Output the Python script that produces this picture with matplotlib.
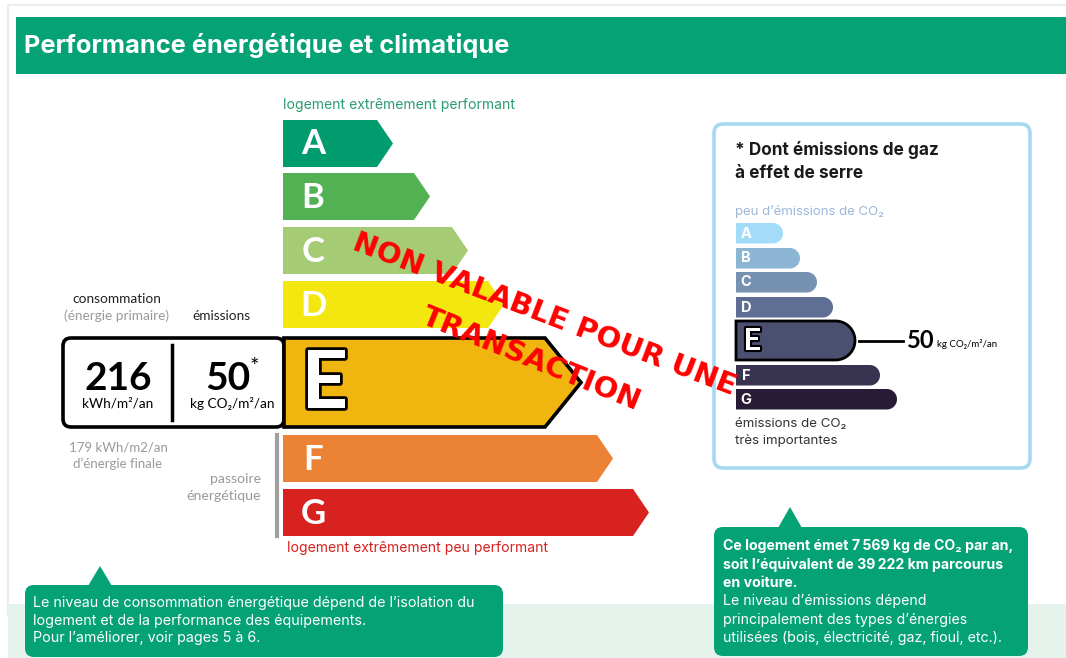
import matplotlib
matplotlib.use("Agg")
import matplotlib.pyplot as plt
import numpy as np
from matplotlib.patches import Polygon, FancyBboxPatch, Rectangle
import matplotlib.patheffects as pe

plt.rcParams['font.family'] = ['Inter', 'DejaVu Sans']

# ---------------- data ----------------
classes = ['A', 'B', 'C', 'D', 'E', 'F', 'G']
energy_colors = ['#009c6d', '#52b153', '#a5cc74', '#f4e70f', '#f0b50f', '#eb8235', '#d7221f']
ghg_colors = ['#a4dbf8', '#8cb4d3', '#7792b1', '#5f6e93', '#4b5070', '#373350', '#281b35']
energy_class = 'E'
ghg_class = 'E'
primary_consumption = 216      # kWh/m²/an
ghg_emissions = 50             # kg CO2/m²/an
final_consumption = 179        # kWh/m2/an
annual_co2 = '7\u202f569'      # kg CO2 / an
car_km = '39\u202f222'         # km
title = 'Performance énergétique et climatique'
top_label = 'logement extrêmement performant'
bottom_label = 'logement extrêmement peu performant'

W, H = 1066, 658
fig = plt.figure(figsize=(W / 100, H / 100), dpi=100)
ax = fig.add_axes([0, 0, 1, 1])
ax.set_xlim(0, W)
ax.set_ylim(H, 0)
ax.axis('off')

GREEN = '#04a275'
LATO = ['Lato', 'DejaVu Sans']

# frame and background bands
ax.add_patch(Rectangle((8, 5), W, 610, facecolor='white', edgecolor='#e3ebe8', lw=1.2))
ax.add_patch(Rectangle((8, 604), W, 60, facecolor='#e6f2ec', edgecolor='none'))
ax.add_patch(Rectangle((16, 17), W, 57, facecolor=GREEN, edgecolor='none'))
ax.text(24, 46, title, color='white', fontsize=18.3, fontweight='bold', va='center', ha='left')

# ---------------- energy label ----------------
ax.text(283, 105, top_label, color='#2a9d6f', fontsize=10.1, va='center', ha='left')
bar_x0 = 283
bar_h = 47
row_top = [120, 173, 227, 281, None, 435, 489]
rect_end = [377, 414, 452, 488, None, 597, 633]
for i, c in enumerate(classes):
    if c == energy_class:
        continue
    y0 = row_top[i]
    x1 = rect_end[i]
    tip = 16
    poly = [(bar_x0, y0), (x1, y0), (x1 + tip, y0 + bar_h / 2), (x1, y0 + bar_h), (bar_x0, y0 + bar_h)]
    ax.add_patch(Polygon(poly, closed=True, facecolor=energy_colors[i], edgecolor='none'))
    ax.text(bar_x0 + 30, y0 + bar_h / 2 + 1, c, color='white', fontsize=25, fontweight='bold',
            ha='center', va='center', family=LATO)

# highlighted energy class
ei = classes.index(energy_class)
ey0, ey1 = 338, 427
box_x0 = 63
arrow_x0 = 284
arrow_x1 = 545
arrow_tip = 581
ax.add_patch(FancyBboxPatch((box_x0, ey0), arrow_x0 - box_x0, ey1 - ey0,
                            boxstyle='round,pad=0,rounding_size=8',
                            facecolor='white', edgecolor='black', lw=2.6, zorder=3))
ax.add_patch(Polygon([(arrow_x0, ey0), (arrow_x1, ey0), (arrow_tip, (ey0 + ey1) / 2),
                      (arrow_x1, ey1), (arrow_x0, ey1)], closed=True,
                     facecolor=energy_colors[ei], edgecolor='black', lw=2.6, joinstyle='miter', zorder=4))
ax.text(325, 385, energy_class, color='white', fontsize=58, fontweight='bold', ha='center', va='center',
        zorder=5, family=LATO, path_effects=[pe.withStroke(linewidth=4, foreground='black')])
ax.plot([172, 172], [345, 420], color='black', lw=2.5, zorder=5)
ax.text(118, 378, str(primary_consumption), fontsize=28, fontweight='bold', ha='center', va='center',
        zorder=5, family=LATO)
ax.text(118, 404, 'kWh/m²/an', fontsize=9.8, ha='center', va='center', zorder=5, family=LATO)
ax.text(228, 378, str(ghg_emissions), fontsize=28, fontweight='bold', ha='center', va='center',
        zorder=5, family=LATO)
ax.text(250, 367, '*', fontsize=16, ha='left', va='center', zorder=5, family=LATO)
ax.text(232, 404, 'kg CO₂/m²/an', fontsize=9.8, ha='center', va='center', zorder=5, family=LATO)

ax.text(117, 299, 'consommation', fontsize=9.8, ha='center', va='center', color='#222222', family=LATO)
ax.text(117, 316, '(énergie primaire)', fontsize=9.8, ha='center', va='center', color='#9a9a9a', family=LATO)
ax.text(221, 316, 'émissions', fontsize=9.8, ha='center', va='center', color='#222222', family=LATO)
ax.text(118, 447, f'{final_consumption} kWh/m2/an', fontsize=9.5, ha='center', va='center', color='#9a9a9a', family=LATO)
ax.text(118, 464, 'd’énergie finale', fontsize=9.5, ha='center', va='center', color='#9a9a9a', family=LATO)
ax.plot([277, 277], [435, 536], color='#a0a0a0', lw=3)
ax.text(261, 479, 'passoire', fontsize=10.2, ha='right', va='center', color='#9a9a9a', family=LATO)
ax.text(261, 496, 'énergétique', fontsize=10.2, ha='right', va='center', color='#9a9a9a', family=LATO)
ax.text(287, 548, bottom_label, color='#d7221f', fontsize=10.1, va='center', ha='left')

# ---------------- GHG box ----------------
ax.add_patch(FancyBboxPatch((714, 124), 316, 344, boxstyle='round,pad=0,rounding_size=9',
                            facecolor='white', edgecolor='#a8d9f2', lw=2.6))
ax.text(735, 150, '* Dont émissions de gaz', fontsize=12.4, fontweight='bold', ha='left', va='center', color='#1a1a1a')
ax.text(735, 173, 'à effet de serre', fontsize=12.4, fontweight='bold', ha='left', va='center', color='#1a1a1a')
ax.text(735, 211, 'peu d’émissions de CO₂', fontsize=9.5, ha='left', va='center', color='#9cb7d8')
ax.text(735, 424, 'émissions de CO₂', fontsize=9.6, ha='left', va='center', color='#333333')
ax.text(735, 441, 'très importantes', fontsize=9.6, ha='left', va='center', color='#333333')


def rounded_bar(x0, y0, x1, h, **kw):
    r = h / 2
    cx = x1 - r
    cy = y0 + r
    ang = np.linspace(-np.pi / 2, np.pi / 2, 40)
    pts = [(x0, y0)] + [(cx + r * np.cos(a), cy + r * np.sin(a)) for a in ang] + [(x0, y0 + h)]
    return Polygon(pts, closed=True, **kw)


g_x0 = 736
g_top = [223, 248, 272, 297, 321, 365, 389]
g_end = [783, 800, 817, 833, 855, 880, 897]
for i, c in enumerate(classes):
    if c == ghg_class:
        ax.add_patch(rounded_bar(g_x0, g_top[i], g_end[i], 39, facecolor=ghg_colors[i],
                                 edgecolor='black', lw=2))
        ax.text(752, g_top[i] + 20, c, color='white', fontsize=22, fontweight='bold', ha='center',
                va='center', family=LATO, path_effects=[pe.withStroke(linewidth=3, foreground='black')])
        ymid = g_top[i] + 20
        ax.plot([859, 903], [ymid, ymid], color='black', lw=2)
        ax.text(907, ymid, str(ghg_emissions), fontsize=17, fontweight='bold', ha='left', va='center', family=LATO)
        ax.text(937, ymid + 3, 'kg CO₂/m²/an', fontsize=7, ha='left', va='center', family=LATO)
    else:
        ax.add_patch(rounded_bar(g_x0, g_top[i], g_end[i], 20.5, facecolor=ghg_colors[i], edgecolor='none'))
        ax.text(746, g_top[i] + 10.5, c, color='white', fontsize=10.5, fontweight='bold', ha='center', va='center')

# ---------------- callouts ----------------
ax.add_patch(FancyBboxPatch((25, 585), 478, 72, boxstyle='round,pad=0,rounding_size=9',
                            facecolor=GREEN, edgecolor='none'))
ax.add_patch(Polygon([(88, 586), (100, 566), (112, 586)], closed=True, facecolor=GREEN, edgecolor='none'))
for k, line in enumerate(['Le niveau de consommation énergétique dépend de l’isolation du',
                          'logement et de la performance des équipements.',
                          'Pour l’améliorer, voir pages 5 à 6.']):
    ax.text(33, 603 + k * 17.5, line, color='white', fontsize=10.3, ha='left', va='center')

ax.add_patch(FancyBboxPatch((714, 527), 314, 129, boxstyle='round,pad=0,rounding_size=9',
                            facecolor=GREEN, edgecolor='none'))
ax.add_patch(Polygon([(778, 528), (790, 507), (802, 528)], closed=True, facecolor=GREEN, edgecolor='none'))
right_lines = [(f'Ce logement émet {annual_co2} kg de CO₂ par an,', 'bold'),
               (f'soit l’équivalent de {car_km} km parcourus', 'bold'),
               ('en voiture.', 'bold'),
               ('Le niveau d’émissions dépend', 'normal'),
               ('principalement des types d’énergies', 'normal'),
               ('utilisées (bois, électricité, gaz, fioul, etc.).', 'normal')]
for k, (line, w) in enumerate(right_lines):
    ax.text(723, 546 + k * 18.4, line, color='white', fontsize=10.2, fontweight=w, ha='left', va='center')

# ---------------- watermark ----------------
ax.text(544, 315, 'NON VALABLE POUR UNE', color='#ff0000', fontsize=21, fontweight='bold',
        rotation=-21, ha='center', va='center', zorder=10, rotation_mode='anchor', family='DejaVu Sans')
ax.text(531, 359, 'TRANSACTION', color='#ff0000', fontsize=21, fontweight='bold',
        rotation=-22, ha='center', va='center', zorder=10, rotation_mode='anchor', family='DejaVu Sans')

fig.savefig('out.png', dpi=100)
